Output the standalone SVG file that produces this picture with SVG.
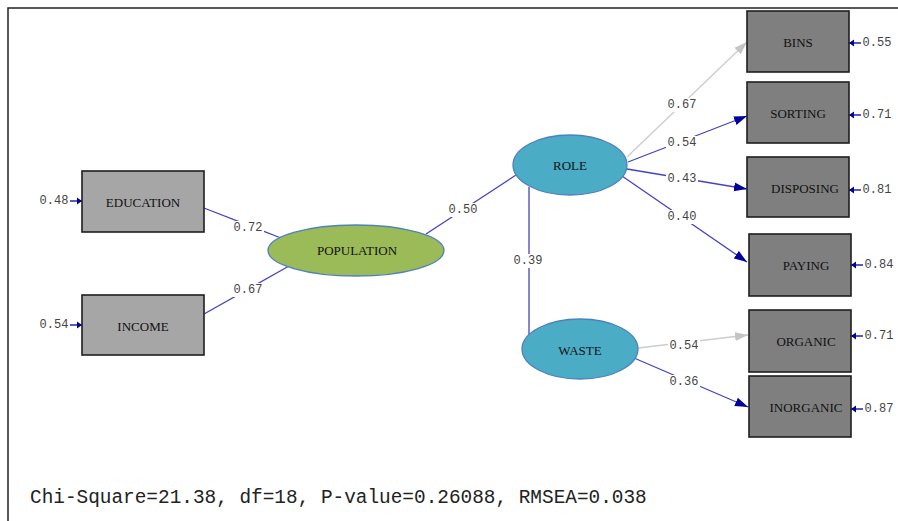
<svg xmlns="http://www.w3.org/2000/svg" width="898" height="521" viewBox="0 0 898 521">
<style>
.frame{fill:none;stroke:#222;stroke-width:1.5}
.lbox{fill:#a6a6a6;stroke:#1e1e1e;stroke-width:1.6}
.rbox{fill:#7f7f7f;stroke:#1e1e1e;stroke-width:1.6}
.ntext{font-family:"Liberation Serif","Times New Roman",serif;font-size:13px;fill:#111;text-anchor:middle;dominant-baseline:central}
.pop{fill:#9bbb59;stroke:#4f81bd;stroke-width:1.3}
.lat{fill:#4bacc6;stroke:#4f81bd;stroke-width:1.3}
.path{stroke:#4444c0;stroke-width:1.3;fill:none}
.arr{marker-end:url(#ah)}
.gpath{stroke:#cccccc;stroke-width:1.3;fill:none;marker-end:url(#ahg)}
.err{stroke:#00009a;stroke-width:1.3;fill:none;marker-end:url(#ae)}
.bg{fill:#fff}
.val{font-family:"Liberation Mono","Courier New",monospace;font-size:12px;fill:#444;text-anchor:middle;dominant-baseline:central}
.fit{font-family:"Liberation Mono","Courier New",monospace;font-size:19.4px;fill:#222}
</style>
<defs>
<marker id="ah" markerUnits="userSpaceOnUse" markerWidth="14" markerHeight="10" refX="13" refY="5" orient="auto"><path d="M0,0.5 L13,5 L0,9.5 Z" fill="#0000a0"/></marker>
<marker id="ahg" markerUnits="userSpaceOnUse" markerWidth="14" markerHeight="10" refX="13" refY="5" orient="auto"><path d="M0,0.5 L13,5 L0,9.5 Z" fill="#c4c4c4"/></marker>
<marker id="ae" markerUnits="userSpaceOnUse" markerWidth="6" markerHeight="8" refX="5" refY="4" orient="auto"><path d="M0,0.5 L5,4 L0,7.5 Z" fill="#00009a"/></marker>
</defs>
<rect width="898" height="521" fill="#fff"/>
<path class="frame" d="M8,521 V8 H898"/>

<g id="connectors">
<line class="path" x1="204" y1="208" x2="281" y2="238"/>
<line class="path" x1="204" y1="314" x2="289" y2="266"/>
<line class="path" x1="426" y1="234" x2="516" y2="175"/>
<line class="path" x1="529" y1="187" x2="529" y2="335"/>
<line class="gpath" x1="627" y1="157" x2="747" y2="42"/>
<line class="path arr" x1="628" y1="162" x2="747" y2="116"/>
<line class="path arr" x1="627" y1="169" x2="747" y2="189"/>
<line class="path arr" x1="622" y1="176" x2="747" y2="262"/>
<line class="gpath" x1="638" y1="348" x2="748" y2="335"/>
<line class="path arr" x1="634" y1="358" x2="748" y2="407"/>
<line class="err" x1="70" y1="201" x2="82" y2="201"/>
<line class="err" x1="70" y1="325" x2="82" y2="325"/>
<line class="err" x1="861" y1="43" x2="849" y2="43"/>
<line class="err" x1="861" y1="115" x2="849" y2="115"/>
<line class="err" x1="861" y1="190" x2="849" y2="190"/>
<line class="err" x1="863" y1="265" x2="851" y2="265"/>
<line class="err" x1="863" y1="336" x2="851" y2="336"/>
<line class="err" x1="863" y1="409" x2="851" y2="409"/>
<rect class="bg" x="232" y="221" width="32" height="14"/>
<rect class="bg" x="232" y="283" width="32" height="14"/>
<rect class="bg" x="447" y="203" width="32" height="14"/>
<rect class="bg" x="512" y="254" width="32" height="14"/>
<rect class="bg" x="666" y="98" width="32" height="14"/>
<rect class="bg" x="666" y="136" width="32" height="14"/>
<rect class="bg" x="666" y="172" width="32" height="14"/>
<rect class="bg" x="666" y="210" width="32" height="14"/>
<rect class="bg" x="668" y="339" width="32" height="14"/>
<rect class="bg" x="668" y="375" width="32" height="14"/>
<text class="val" x="248" y="228">0.72</text>
<text class="val" x="248" y="290">0.67</text>
<text class="val" x="463" y="210">0.50</text>
<text class="val" x="528" y="261">0.39</text>
<text class="val" x="682" y="105">0.67</text>
<text class="val" x="682" y="143">0.54</text>
<text class="val" x="682" y="179">0.43</text>
<text class="val" x="682" y="217">0.40</text>
<text class="val" x="684" y="346">0.54</text>
<text class="val" x="684" y="382">0.36</text>
<text class="val" x="54" y="201">0.48</text>
<text class="val" x="54" y="325">0.54</text>
<text class="val" x="877" y="43">0.55</text>
<text class="val" x="877" y="115">0.71</text>
<text class="val" x="877" y="190">0.81</text>
<text class="val" x="879" y="265">0.84</text>
<text class="val" x="879" y="336">0.71</text>
<text class="val" x="879" y="409">0.87</text>
</g>

<g id="education"><rect class="lbox" x="82" y="171" width="122" height="61"/><text class="ntext" x="143" y="202">EDUCATION</text></g>
<g id="income"><rect class="lbox" x="82" y="295" width="122" height="60"/><text class="ntext" x="143" y="326">INCOME</text></g>
<g id="population"><ellipse class="pop" cx="356" cy="250.5" rx="88" ry="25.5"/><text class="ntext" x="357" y="250">POPULATION</text></g>
<g id="role"><ellipse class="lat" cx="570" cy="165" rx="57" ry="30"/><text class="ntext" x="570" y="165">ROLE</text></g>
<g id="waste"><ellipse class="lat" cx="580" cy="349" rx="58" ry="30"/><text class="ntext" x="580" y="350">WASTE</text></g>
<g id="bins"><rect class="rbox" x="747" y="11" width="102" height="61"/><text class="ntext" x="798" y="42">BINS</text></g>
<g id="sorting"><rect class="rbox" x="747" y="82" width="102" height="61"/><text class="ntext" x="798" y="113">SORTING</text></g>
<g id="disposing"><rect class="rbox" x="747" y="157" width="102" height="60"/><text class="ntext" x="805" y="188">DISPOSING</text></g>
<g id="paying"><rect class="rbox" x="749" y="234" width="102" height="62"/><text class="ntext" x="806" y="265">PAYING</text></g>
<g id="organic"><rect class="rbox" x="749" y="310" width="102" height="62"/><text class="ntext" x="806" y="341">ORGANIC</text></g>
<g id="inorganic"><rect class="rbox" x="749" y="376" width="102" height="61"/><text class="ntext" x="806" y="407">INORGANIC</text></g>

<text class="fit" x="30" y="503">Chi-Square=21.38, df=18, P-value=0.26088, RMSEA=0.038</text>
</svg>
